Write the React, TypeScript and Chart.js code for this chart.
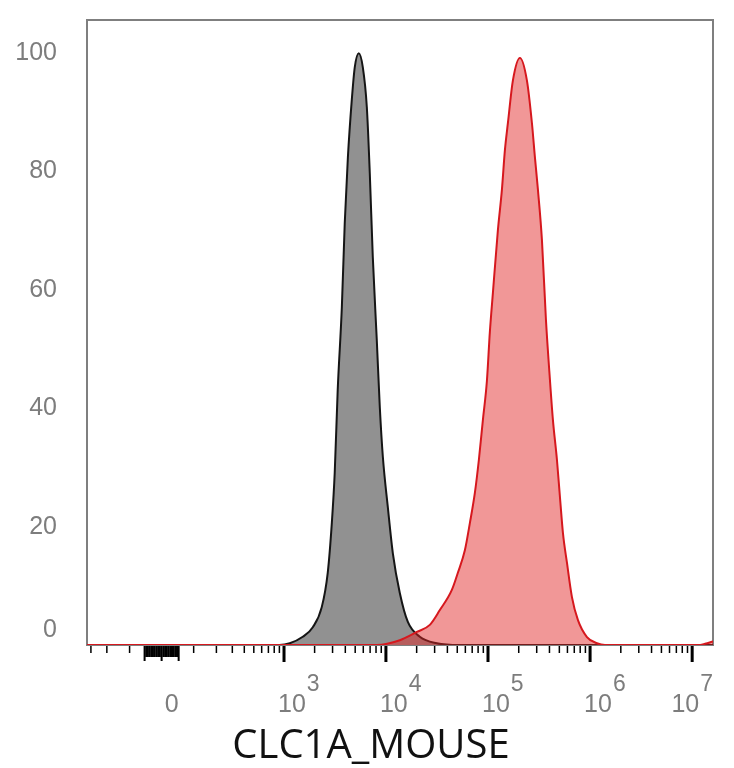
import { useEffect, useRef } from "react";
import { Chart, LinearScale, registerables } from "chart.js";

// biexponential (arcsinh) display transform used by the x axis
const LN10 = Math.log(10);
const BIEX_WIDTH = 127;
const biex = (v: number) => Math.asinh(v / BIEX_WIDTH) / LN10;

class BiexScale extends LinearScale {
  static id = "biex";
  static defaults = LinearScale.defaults;

  getPixelForValue(value: number) {
    const a = biex(this.min);
    const b = biex(this.max);
    return this.getPixelForDecimal((biex(value) - a) / (b - a));
  }

  getValueForPixel(pixel: number) {
    const a = biex(this.min);
    const b = biex(this.max);
    const t = a + this.getDecimalForPixel(pixel) * (b - a);
    return Math.sinh(t * LN10) * BIEX_WIDTH;
  }
}

Chart.register(...registerables, BiexScale);

const AXIS_TITLE = "CLC1A_MOUSE";
const X_MIN = -330;
const X_MAX = 1.6e7;
const Y_MAX = 105.6;

// isotype control (grey)
const GRAY_X = [
  -330, 900, 1140, 1530, 1920, 2350, 2690, 2950, 3150, 3370, 3700, 3950, 4240,
  4630, 4950, 5420, 5940, 6500, 6950, 7440, 8140, 8710, 9330, 10440, 11690,
  13680, 16400, 21470, 31530, 53060, 1.6e7,
];
const GRAY_Y = [
  0, 0, 0.3, 1.4, 3.0, 6.4, 12.2, 20.6, 29.1, 43.1, 57.1, 71.3, 82.4, 92.1,
  97.6, 100, 97.6, 90.9, 79.7, 65.5, 51.5, 40.2, 31.8, 23.3, 15.5, 8.8, 3.9,
  1.4, 0.3, 0, 0,
];

// stained sample (red)
const RED_X = [
  -330, 8140, 13680, 20080, 26920, 33760, 44250, 50670, 59340, 66420, 74360,
  81410, 89090, 97540, 104300, 111700, 125000, 136800, 146400, 156700, 175400,
  205400, 240500, 269300, 288200, 308500, 337600, 369400, 404300, 432600,
  473500, 506700, 542300, 593500, 664200, 760700, 932200, 1168000, 1399000,
  11960000, 13390000, 16000000,
];
const RED_Y = [
  0, 0, 0.8, 2.2, 3.4, 5.9, 9.3, 12.2, 16.0, 20.6, 25.7, 31.3, 38.0, 44.6,
  52.9, 59.5, 70.1, 76.9, 83.6, 88.2, 95.4, 99.2, 95.4, 88.2, 82.4, 76.9, 68.4,
  55, 44.8, 38.0, 31.3, 25.0, 18.9, 13.9, 8.1, 4.2, 1.35, 0.3, 0, 0, 0.2, 0.6,
];

const Y_TICKS = [0, 20, 40, 60, 80, 100];
const Y_ZERO_LABEL_LIFT = 2.5; // the "0" label sits a little above the baseline

const X_LABEL_VALUES = [0, 1e3, 1e4, 1e5, 1e6, 1e7];
const X_LABEL_EXPONENTS = ["", "3", "4", "5", "6", "7"];
const X_MAJOR_TICKS = [1e3, 1e4, 1e5, 1e6, 1e7];
const X_NEG_TICKS = [-100, -200, -300];
const X_ZERO_TICKS = [-50, -45, -40, -35, -30, -25, -20, -15, -10, -5, 0, 5, 10, 15, 20, 25, 30, 35, 40, 45, 50];

const LABEL_GREY = "#7d7d7d";
const LABEL_FONT = "'Liberation Sans', Arial, sans-serif";

const flowAxesPlugin = {
  id: "flowAxes",
  beforeDatasetsDraw: (chart: any) => {
    const { ctx, chartArea } = chart;
    ctx.save();
    ctx.strokeStyle = "#7f7f7f";
    ctx.lineWidth = 2;
    ctx.strokeRect(
      chartArea.left,
      chartArea.top,
      chartArea.right - chartArea.left,
      chartArea.bottom - chartArea.top
    );
    ctx.restore();
  },
  afterDraw: (chart: any) => {
    const { ctx, chartArea } = chart;
    const xs = chart.scales.x;
    const bottom = chartArea.bottom + 1;
    ctx.save();
    ctx.fillStyle = "#000";

    const tick = (v: number, w: number, len: number) => {
      const px = xs.getPixelForValue(v);
      if (px < chartArea.left || px > chartArea.right) return;
      ctx.fillRect(px - w / 2, bottom, w, len);
    };

    // minor ticks 100..900, 2e3..9e3 etc.
    for (let d = 100; d <= 1e6; d *= 10) {
      for (let m = 1; m <= 9; m++) {
        if (d === 100 || m > 1) tick(m * d, 1.5, 7);
      }
    }
    X_NEG_TICKS.forEach((v) => tick(v, 1.5, 7));
    X_ZERO_TICKS.forEach((v) => tick(v, 2, v % 50 === 0 ? 15 : 11));
    X_MAJOR_TICKS.forEach((v) => tick(v, 3, 16));

    // tick labels
    ctx.fillStyle = LABEL_GREY;
    ctx.textBaseline = "alphabetic";
    X_LABEL_VALUES.forEach((v, i) => {
      const px = xs.getPixelForValue(v);
      const exp = X_LABEL_EXPONENTS[i];
      ctx.font = `25px ${LABEL_FONT}`;
      if (!exp) {
        ctx.textAlign = "center";
        ctx.fillText(String(v), px + 10, bottom + 66);
        return;
      }
      ctx.textAlign = "left";
      const baseW = ctx.measureText("10").width;
      ctx.font = `23px ${LABEL_FONT}`;
      const expW = ctx.measureText(exp).width;
      let x0 = px - 6;
      const total = baseW + 1 + expW;
      if (x0 + total > chartArea.right) x0 = chartArea.right - total;
      ctx.fillText(exp, x0 + baseW + 1, bottom + 45);
      ctx.font = `25px ${LABEL_FONT}`;
      ctx.fillText("10", x0, bottom + 66);
    });

    // axis title
    ctx.fillStyle = "#111";
    ctx.textAlign = "center";
    ctx.font = "40px 'Open Sans', 'Noto Sans', sans-serif";
    ctx.fillText(
      AXIS_TITLE,
      (chartArea.left + chartArea.right) / 2 - 29,
      chartArea.bottom + 113
    );
    ctx.restore();
  },
};

const App = () => {
  const chartRef = useRef<HTMLCanvasElement>(null);
  const chartInstance = useRef<Chart | null>(null);

  useEffect(() => {
    document.body.style.margin = "0";
    if (chartInstance.current) {
      chartInstance.current.destroy();
      chartInstance.current = null;
    }

    chartInstance.current = new Chart(chartRef.current!, {
      type: "line",
      data: {
        datasets: [
          {
            data: GRAY_X.map((x, i) => ({ x, y: GRAY_Y[i] })),
            borderColor: "#151515",
            backgroundColor: "#919191",
            borderWidth: 2,
            fill: "origin",
            pointRadius: 0,
            cubicInterpolationMode: "monotone",
            order: 1,
          },
          {
            data: RED_X.map((x, i) => ({ x, y: RED_Y[i] })),
            borderColor: "rgb(214, 24, 30)",
            backgroundColor: "rgba(225, 35, 35, 0.47)",
            borderWidth: 2,
            fill: "origin",
            pointRadius: 0,
            cubicInterpolationMode: "monotone",
            order: 0,
          },
        ],
      },
      options: {
        responsive: true,
        maintainAspectRatio: false,
        animation: false,
        layout: { padding: { top: 20, right: 21, left: 0, bottom: 0 } },
        plugins: {
          legend: { display: false },
          tooltip: { enabled: false },
        },
        scales: {
          x: {
            type: "biex" as any,
            min: X_MIN,
            max: X_MAX,
            grid: { display: false, drawTicks: false },
            border: { display: false },
            ticks: { display: false },
            afterFit: (s: any) => {
              s.height = 123;
              s.paddingLeft = 0;
              s.paddingRight = 0;
            },
          },
          y: {
            type: "linear",
            min: 0,
            max: Y_MAX,
            grid: { display: false, drawTicks: false },
            border: { display: false },
            afterBuildTicks: (s: any) => {
              s.ticks = Y_TICKS.map((v) => ({
                value: v === 0 ? Y_ZERO_LABEL_LIFT : v,
              }));
            },
            ticks: {
              padding: 30,
              color: LABEL_GREY,
              font: { family: LABEL_FONT, size: 25 },
              callback: (v: any) => (Number(v) < 10 ? "0" : String(v)),
            },
            afterFit: (s: any) => {
              s.width = 87;
              s.paddingTop = 0;
              s.paddingBottom = 0;
            },
          },
        },
      },
      plugins: [flowAxesPlugin],
    });

    return () => {
      if (chartInstance.current) {
        chartInstance.current.destroy();
        chartInstance.current = null;
      }
    };
  }, []);

  return (
    <div style={{ position: "relative", width: 734, height: 768 }}>
      <canvas ref={chartRef} />
    </div>
  );
};

export default App;
